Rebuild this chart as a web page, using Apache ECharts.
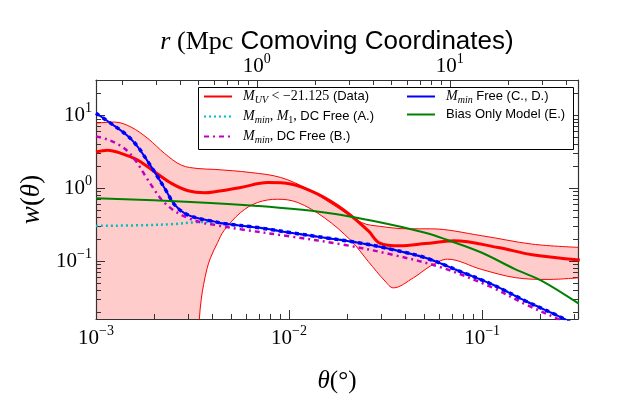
<!DOCTYPE html>
<html><head><meta charset="utf-8">
<script src="https://cdn.jsdelivr.net/npm/echarts@6/dist/echarts.min.js"></script>
<style>html,body{margin:0;padding:0;background:#fff}#c{width:640px;height:400px}</style>
</head><body><div id="c"></div>
<script>
// ---- axis ranges and tick labels ----
const thetaRange = [0.001, 0.314];      // degrees
const wRange = [0.0162, 30.6];
const rPerDeg = 146.9;                  // Mpc (comoving) per degree
const thetaExp = [-3, -2, -1];          // bottom tick labels 10^n
const wExp = [-1, 0, 1];                // left tick labels 10^n
const rExp = [0, 1];                    // top tick labels 10^n

// ---- Data: M_UV < -21.125 (mean and band) ----
const dataTheta = [0.001, 0.00115, 0.00136, 0.00165, 0.00201, 0.00246, 0.00300, 0.00366, 0.00412, 0.00562, 0.00774, 0.0102, 0.0141, 0.0195, 0.0257, 0.0295, 0.0376, 0.0508, 0.0716, 0.121, 0.182, 0.321];
const dataW = [3.16, 3.33, 3.00, 2.43, 1.69, 1.17, 0.927, 0.871, 0.90, 1.03, 1.20, 1.15, 0.832, 0.490, 0.263, 0.178, 0.163, 0.175, 0.191, 0.155, 0.123, 0.104];

const upperTheta = [0.001, 0.00125, 0.00152, 0.00186, 0.00227, 0.00277, 0.00338, 0.00412, 0.00634, 0.00906, 0.0125, 0.0173, 0.0238, 0.0295, 0.0416, 0.0541, 0.0991, 0.182, 0.321];
const upperW = [7.85, 8.11, 6.92, 4.81, 3.00, 2.08, 1.87, 1.82, 1.65, 1.41, 0.977, 0.575, 0.339, 0.302, 0.279, 0.279, 0.225, 0.172, 0.155];

const lowerTheta = [0.001, 0.00331, 0.00339, 0.00343, 0.00351, 0.00361, 0.00376, 0.00392, 0.00427, 0.00460, 0.00562, 0.00687, 0.00873, 0.0111, 0.0152, 0.0210, 0.0257, 0.0314, 0.0347, 0.0442, 0.0541, 0.0662, 0.0991, 0.149, 0.222, 0.321];
const lowerW = [0.000316, 0.001, 0.0063, 0.0162, 0.0302, 0.0482, 0.0794, 0.112, 0.182, 0.263, 0.468, 0.640, 0.710, 0.640, 0.398, 0.191, 0.100, 0.0537, 0.0433, 0.0597, 0.0863, 0.107, 0.0776, 0.0597, 0.0565, 0.0597];

// ---- (A.) M_min, M_1, DC free ----
const aTheta = [0.001, 0.00178, 0.00251, 0.00324, 0.00412, 0.00460, 0.00687, 0.0102, 0.0153, 0.0229, 0.0340, 0.0508, 0.0757, 0.113, 0.168, 0.262, 0.321];
const aW = [0.306, 0.313, 0.324, 0.343, 0.348, 0.329, 0.290, 0.247, 0.211, 0.180, 0.146, 0.112, 0.0741, 0.0482, 0.0286, 0.0166, 0.0120];

// ---- (B.) M_min, DC free ----
const bTheta = [0.001, 0.00115, 0.00133, 0.00147, 0.00162, 0.00179, 0.00197, 0.00218, 0.00251, 0.00294, 0.00352, 0.00412, 0.00562, 0.0102, 0.0187, 0.0340, 0.0621, 0.113, 0.168, 0.252, 0.321];
const bW = [5.16, 4.66, 3.89, 3.16, 2.31, 1.52, 1.03, 0.708, 0.506, 0.402, 0.340, 0.316, 0.275, 0.219, 0.171, 0.124, 0.0818, 0.0437, 0.0257, 0.0158, 0.0112];

// ---- (C., D.) M_min free ----
const freeTheta = [0.001, 0.00120, 0.00147, 0.00165, 0.00186, 0.00206, 0.00227, 0.00256, 0.00288, 0.00338, 0.00412, 0.00460, 0.00687, 0.0102, 0.0153, 0.0229, 0.0340, 0.0508, 0.0757, 0.113, 0.168, 0.262, 0.321];
const freeW = [10.7, 7.71, 5.16, 3.69, 2.31, 1.52, 1.00, 0.592, 0.456, 0.389, 0.350, 0.329, 0.290, 0.247, 0.211, 0.180, 0.146, 0.112, 0.0741, 0.0482, 0.0286, 0.0166, 0.0120];

// ---- (E.) bias only model ----
const biasTheta = [0.001, 0.0031, 0.00687, 0.0153, 0.0295, 0.0508, 0.0662, 0.0991, 0.149, 0.205, 0.321];
const biasW = [0.733, 0.652, 0.575, 0.468, 0.344, 0.247, 0.196, 0.132, 0.0776, 0.0537, 0.0257];

// ---- legend texts ----
const legendText = {
  Data: '{mi|M}{sub|UV}{m| < \u221221.125}{t| (Data)}',
  A: '{mi|M}{sub|min}{m|, }{mi|M}{subr|1}{m|, }{t|DC Free (A.)}',
  B: '{mi|M}{sub|min}{m|, }{t|DC Free (B.)}',
  CD: '{mi|M}{sub|min}{t| Free (C., D.)}',
  E: '{t|Bias Only Model (E.)}'
};

const SERIF = "'Liberation Serif', 'DejaVu Serif', serif";
const SANS = "'Liberation Sans', Arial, sans-serif";
const L = Math.log10;
const toXY = (th, w) => th.map((t, i) => [L(t), L(w[i])]);
const xMin = L(thetaRange[0]), xMax = L(thetaRange[1]);
const yMin = L(wRange[0]), yMax = L(wRange[1]);
const rOff = L(rPerDeg);

function minorLogs(lo, hi) {
  const out = [];
  for (let n = Math.floor(lo) - 1; n <= Math.ceil(hi); n++)
    for (let k = 2; k <= 9; k++) { const v = n + L(k); if (v > lo + 1e-9 && v < hi - 1e-9) out.push(v); }
  return out;
}
const supTxt = n => (n < 0 ? '\u2212' + (-n) : String(n));
const pow10 = v => '{b|10}{s|' + supTxt(Math.round(v)) + '}';
const labelRich = {
  b: {fontFamily: SERIF, fontSize: 21, lineHeight: 26, color: '#000'},
  s: {fontFamily: SERIF, fontSize: 14, lineHeight: 26, padding: [0, 0, 14, 0], color: '#000'}
};
const AX = '#333';
function majorAxis(pos, lo, hi, vals, margin, extra) {
  return Object.assign({
    type: 'value', position: pos, min: lo, max: hi, z: 3,
    axisLine: {show: true, onZero: false, lineStyle: {color: AX, width: 1.2}},
    axisTick: {show: true, inside: true, length: 9, customValues: vals, lineStyle: {color: AX, width: 1}},
    axisLabel: {show: true, customValues: vals, formatter: pow10, rich: labelRich, margin: margin},
    splitLine: {show: false}, minorTick: {show: false}
  }, extra || {});
}
function minorAxis(pos, lo, hi) {
  return {
    type: 'value', position: pos, min: lo, max: hi, z: 3,
    axisLine: {show: false, onZero: false},
    axisTick: {show: true, inside: true, length: 5, customValues: minorLogs(lo, hi), lineStyle: {color: AX, width: 1}},
    axisLabel: {show: false}, splitLine: {show: false}
  };
}

const chart = echarts.init(document.getElementById('c'), null, {renderer: 'canvas'});
const lineBase = {type: 'line', xAxisIndex: 0, yAxisIndex: 0, symbol: 'none', showSymbol: false,
  smooth: 0.35, silent: true, animation: false};
const legRich = {
  mi: {fontFamily: SERIF, fontStyle: 'italic', fontSize: 14, lineHeight: 16, color: '#000'},
  sub: {fontFamily: SERIF, fontStyle: 'italic', fontSize: 10, lineHeight: 16, padding: [7, 0, 0, 0], color: '#000'},
  subr: {fontFamily: SERIF, fontSize: 10, lineHeight: 16, padding: [7, 0, 0, 0], color: '#000'},
  m: {fontFamily: SERIF, fontSize: 14, lineHeight: 16, color: '#000'},
  t: {fontFamily: SANS, fontSize: 13, lineHeight: 16, color: '#000'}
};
const legendBase = {orient: 'vertical', itemWidth: 28, itemHeight: 14, itemGap: 3, padding: 0, z: 5,
  selectedMode: false, formatter: n => legendText[n], itemStyle: {opacity: 0},
  textStyle: {rich: legRich, padding: [0, 0, 0, 6]}};

chart.setOption({
  animation: false,
  backgroundColor: '#fff',
  grid: {left: 96, right: 62, top: 80, bottom: 81, containLabel: false},
  xAxis: [
    majorAxis('bottom', xMin, xMax, thetaExp, 6, {
      name: '{i|\u03b8}{m|(\u00b0)}', nameLocation: 'middle', nameGap: 50,
      nameTextStyle: {rich: {i: {fontFamily: SERIF, fontStyle: 'italic', fontSize: 25, color: '#000'},
                             m: {fontFamily: SERIF, fontSize: 25, color: '#000'}}}
    }),
    minorAxis('bottom', xMin, xMax),
    majorAxis('top', xMin + rOff, xMax + rOff, rExp, 1, {
      name: '{i|r}{m| (Mpc}{t| Comoving Coordinates)}', nameLocation: 'middle', nameGap: 25,
      nameMoveOverlap: false,
      nameTextStyle: {rich: {i: {fontFamily: SERIF, fontStyle: 'italic', fontSize: 26, color: '#000'},
                             m: {fontFamily: SERIF, fontSize: 26, color: '#000'},
                             t: {fontFamily: SANS, fontSize: 26, color: '#000'}}}
    }),
    minorAxis('top', xMin + rOff, xMax + rOff)
  ],
  yAxis: [
    majorAxis('left', yMin, yMax, wExp, 4, {
      name: '{i|w}{m|(}{i|\u03b8}{m|)}', nameLocation: 'middle', nameGap: 50,
      nameTextStyle: {rich: {i: {fontFamily: SERIF, fontStyle: 'italic', fontSize: 27, color: '#000'},
                             m: {fontFamily: SERIF, fontSize: 27, color: '#000'}}}
    }),
    minorAxis('left', yMin, yMax),
    majorAxis('right', yMin, yMax, wExp, 4, {axisLabel: {show: false}}),
    minorAxis('right', yMin, yMax)
  ],
  legend: [
    Object.assign({}, legendBase, {data: ['Data', 'A', 'B'], left: 203, top: 88}),
    Object.assign({}, legendBase, {data: ['CD', 'E'], left: 406, top: 88})
  ],
  graphic: [{type: 'rect', left: 198, top: 87, z: 3.5,
    shape: {width: 375, height: 62}, style: {fill: '#fff', stroke: '#000', lineWidth: 1}}],
  series: [
    Object.assign({}, lineBase, {name: 'band_hi', data: toXY(upperTheta, upperW),
      lineStyle: {color: '#ff0000', width: 1}, areaStyle: {color: '#ffcccc', opacity: 1, origin: 'start'}}),
    Object.assign({}, lineBase, {name: 'band_lo', data: toXY(lowerTheta, lowerW),
      lineStyle: {color: '#ff0000', width: 1}, areaStyle: {color: '#ffffff', opacity: 1, origin: 'start'}}),
    Object.assign({}, lineBase, {name: 'Data', data: toXY(dataTheta, dataW),
      itemStyle: {color: '#ff0000'}, lineStyle: {color: '#ff0000', width: 3}}),
    Object.assign({}, lineBase, {name: 'A', data: toXY(aTheta, aW),
      itemStyle: {color: '#00bfbf'}, lineStyle: {color: '#00bfbf', width: 2.5, type: [2, 3]}}),
    Object.assign({}, lineBase, {name: 'B', data: toXY(bTheta, bW),
      itemStyle: {color: '#bf00bf'}, lineStyle: {color: '#bf00bf', width: 2.5, type: [5, 4, 2, 4]}}),
    Object.assign({}, lineBase, {name: 'CD', data: toXY(freeTheta, freeW),
      itemStyle: {color: '#0000ff'}, lineStyle: {color: '#0000ff', width: 2}}),
    Object.assign({}, lineBase, {name: 'CD_dashed', data: toXY(freeTheta, freeW),
      itemStyle: {color: '#0000ff'}, lineStyle: {color: '#0000ff', width: 3.5, type: [4, 4]}}),
    Object.assign({}, lineBase, {name: 'E', data: toXY(biasTheta, biasW),
      itemStyle: {color: '#008000'}, lineStyle: {color: '#008000', width: 2}})
  ]
});
</script></body></html>
